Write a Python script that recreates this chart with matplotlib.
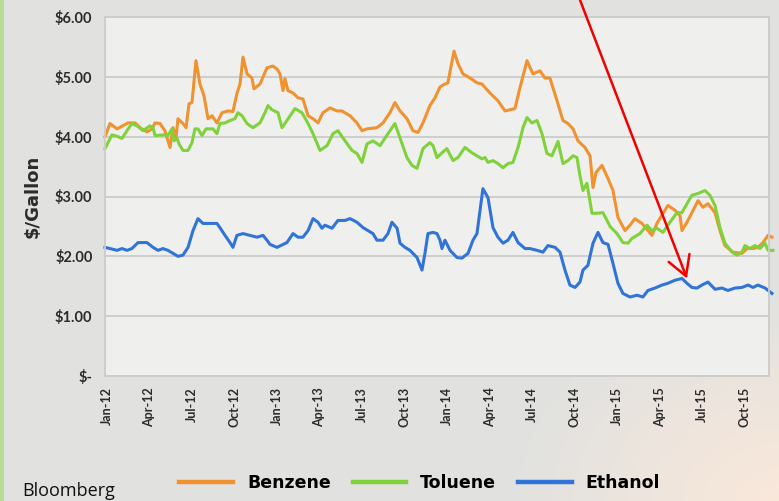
import numpy as np
import matplotlib
matplotlib.use("Agg")
import matplotlib.pyplot as plt
from matplotlib.lines import Line2D

# months since Jan-2012 and $/gallon
benzene_m = [-0.14, 0.21, 0.71, 1.48, 1.98, 2.33, 2.82, 3.18, 3.39, 3.74, 4.09, 4.45, 4.66, 4.87,
             5.01, 5.36, 5.58, 5.79, 6.00, 6.28, 6.56, 6.85, 7.13, 7.41, 7.76, 8.12, 8.54, 8.89,
             9.17, 9.39, 9.60, 9.88, 10.23, 10.37, 10.80, 11.29, 11.71, 12.00, 12.21, 12.42,
             12.56, 12.77, 13.13, 13.48, 13.83, 14.19, 14.54, 14.89, 15.24, 15.74, 16.23, 16.58,
             17.15, 17.64, 18.00, 18.35, 19.05, 19.48, 19.97, 20.32, 20.68, 21.17, 21.59, 21.95,
             22.30, 22.79, 23.15, 23.50, 23.85, 24.06, 24.49, 24.77, 25.12, 25.62, 26.11, 26.46,
             27.03, 27.59, 28.09, 28.79, 29.15, 29.64, 30.06, 30.56, 30.91, 31.26, 31.76, 32.18,
             32.53, 32.89, 33.24, 33.73, 34.09, 34.30, 34.51, 34.93, 35.36, 35.71, 36.06, 36.56,
             36.91, 37.26, 37.75, 38.18, 38.46, 38.81, 39.24, 39.59, 40.08, 40.44, 40.58, 40.93,
             41.28, 41.71, 42.06, 42.41, 42.91, 43.26, 43.61, 44.18, 44.81, 45.17, 45.59, 45.94,
             46.30, 46.65, 46.93]
benzene = [4.0, 4.22, 4.13, 4.23, 4.23, 4.15, 4.08, 4.13, 4.23, 4.22, 4.1, 3.82, 4.15, 3.98,
           4.3, 4.22, 4.15, 4.55, 4.57, 5.27, 4.88, 4.68, 4.3, 4.35, 4.23, 4.4, 4.43, 4.42,
           4.72, 4.88, 5.33, 5.05, 4.98, 4.8, 4.88, 5.15, 5.18, 5.13, 5.05, 4.77,
           4.97, 4.77, 4.73, 4.65, 4.63, 4.35, 4.3, 4.23, 4.4, 4.48, 4.43, 4.43,
           4.35, 4.23, 4.1, 4.13, 4.15, 4.23, 4.4, 4.57, 4.43, 4.3, 4.1, 4.07,
           4.23, 4.52, 4.65, 4.83, 4.88, 4.9, 5.43, 5.22, 5.05, 4.98, 4.9, 4.88,
           4.73, 4.6, 4.43, 4.47, 4.82, 5.27, 5.05, 5.1, 4.98, 4.98, 4.6, 4.27,
           4.22, 4.13, 3.93, 3.82, 3.68, 3.15, 3.4, 3.52, 3.3, 3.1, 2.65, 2.43,
           2.52, 2.63, 2.55, 2.43, 2.35, 2.55, 2.72, 2.85, 2.77, 2.68, 2.43, 2.57,
           2.73, 2.93, 2.82, 2.88, 2.73, 2.43, 2.18, 2.07, 2.05, 2.13, 2.13, 2.15,
           2.23, 2.35, 2.32]

toluene_m = [-0.14, 0.14, 0.35, 0.78, 1.06, 1.41, 1.76, 2.19, 2.54, 3.03, 3.25, 3.39, 4.09, 4.30,
             4.59, 4.73, 4.94, 5.08, 5.36, 5.72, 6.00, 6.21, 6.42, 6.70, 6.99, 7.48, 7.76, 7.97,
             8.33, 8.68, 9.03, 9.24, 9.53, 9.88, 10.30, 10.80, 11.15, 11.36, 11.64, 12.07, 12.35,
             12.70, 13.27, 13.76, 14.19, 14.54, 15.03, 15.53, 15.95, 16.30, 16.65, 17.29, 17.64,
             18.00, 18.35, 18.77, 19.27, 19.83, 20.32, 20.68, 21.17, 21.52, 21.88, 22.30, 22.79,
             23.01, 23.29, 23.64, 23.99, 24.42, 24.77, 25.26, 25.76, 26.11, 26.46, 26.68, 26.89,
             27.24, 27.59, 27.95, 28.30, 28.65, 29.01, 29.36, 29.64, 29.99, 30.35, 30.70, 31.05,
             31.40, 31.83, 32.18, 32.53, 32.89, 33.17, 33.38, 33.59, 33.87, 34.23, 34.58, 35.00,
             35.29, 35.50, 35.99, 36.41, 36.77, 37.05, 37.61, 38.11, 38.46, 38.81, 39.24, 39.73,
             40.23, 40.58, 40.93, 41.28, 41.71, 42.20, 42.55, 42.91, 43.26, 43.61, 44.11, 44.46,
             44.81, 45.02, 45.38, 45.73, 46.08, 46.44, 46.65, 47.00]
toluene = [3.8, 3.93, 4.03, 4.0, 3.97, 4.1, 4.22, 4.17, 4.1, 4.18, 4.15, 4.02, 4.03, 4.02,
           4.13, 3.93, 3.98, 3.88, 3.77, 3.77, 3.9, 4.13, 4.13, 4.02, 4.13, 4.13, 4.05, 4.22,
           4.23, 4.27, 4.3, 4.4, 4.35, 4.22, 4.15, 4.23, 4.4, 4.52, 4.45, 4.4, 4.15,
           4.27, 4.47, 4.4, 4.22, 4.05, 3.77, 3.85, 4.05, 4.1, 3.98, 3.77, 3.72,
           3.57, 3.88, 3.93, 3.85, 4.05, 4.22, 3.98, 3.65, 3.52, 3.47, 3.8, 3.9,
           3.85, 3.65, 3.73, 3.8, 3.6, 3.65, 3.82, 3.73, 3.68, 3.63, 3.65, 3.57,
           3.6, 3.55, 3.48, 3.55, 3.57, 3.82, 4.15, 4.32, 4.23, 4.27, 4.05, 3.72,
           3.68, 3.92, 3.55, 3.6, 3.68, 3.65, 3.35, 3.1, 3.22, 2.72, 2.72, 2.73,
           2.6, 2.5, 2.38, 2.23, 2.22, 2.3, 2.38, 2.52, 2.43, 2.47, 2.4, 2.57,
           2.73, 2.73, 2.88, 3.02, 3.05, 3.1, 3.02, 2.85, 2.48, 2.22, 2.07, 2.02,
           2.07, 2.18, 2.13, 2.18, 2.13, 2.22, 2.1, 2.1]

ethanol_m = [-0.14, 0.21, 0.71, 1.06, 1.41, 1.76, 2.19, 2.82, 3.25, 3.60, 3.95, 4.30, 4.66, 5.01,
             5.36, 5.72, 6.07, 6.42, 6.77, 7.27, 7.76, 7.97, 8.33, 8.68, 8.89, 9.17, 9.60, 10.09,
             10.59, 11.01, 11.29, 11.50, 12.00, 12.70, 13.13, 13.48, 13.83, 14.19, 14.54, 14.89,
             15.17, 15.38, 15.88, 16.30, 16.80, 17.15, 17.64, 18.07, 18.42, 18.77, 19.05, 19.48,
             19.83, 20.11, 20.47, 20.68, 21.03, 21.38, 21.88, 22.23, 22.44, 22.65, 23.01, 23.29,
             23.50, 23.64, 23.85, 24.21, 24.70, 25.05, 25.48, 25.83, 26.11, 26.53, 26.89, 27.24,
             27.59, 27.95, 28.30, 28.65, 29.01, 29.50, 29.85, 30.35, 30.77, 31.12, 31.62, 31.97,
             32.32, 32.67, 33.03, 33.38, 33.59, 33.94, 34.30, 34.65, 35.00, 35.36, 35.71, 36.06,
             36.41, 36.91, 37.40, 37.82, 38.18, 38.67, 39.17, 39.59, 40.08, 40.58, 40.93, 41.28,
             41.64, 41.99, 42.41, 42.91, 43.40, 43.82, 44.32, 44.81, 45.24, 45.59, 45.94, 46.44,
             46.93]
ethanol = [2.15, 2.13, 2.1, 2.13, 2.1, 2.13, 2.23, 2.23, 2.15, 2.1, 2.13, 2.1, 2.05, 2.0,
           2.02, 2.15, 2.43, 2.63, 2.55, 2.55, 2.55, 2.48, 2.35, 2.23, 2.15, 2.35, 2.38, 2.35,
           2.32, 2.35, 2.27, 2.2, 2.15, 2.23, 2.38, 2.32, 2.32, 2.43, 2.63, 2.57,
           2.47, 2.52, 2.47, 2.6, 2.6, 2.63, 2.57, 2.48, 2.43, 2.38, 2.27, 2.27,
           2.38, 2.57, 2.47, 2.22, 2.15, 2.1, 1.98, 1.77, 2.05, 2.38, 2.4, 2.38,
           2.27, 2.13, 2.27, 2.1, 1.98, 1.97, 2.05, 2.27, 2.38, 3.13, 2.98, 2.48,
           2.32, 2.22, 2.27, 2.4, 2.23, 2.13, 2.13, 2.1, 2.07, 2.18, 2.15, 2.07,
           1.77, 1.52, 1.48, 1.57, 1.77, 1.85, 2.22, 2.4, 2.23, 2.2, 1.88, 1.55,
           1.38, 1.32, 1.35, 1.32, 1.43, 1.47, 1.52, 1.55, 1.6, 1.63, 1.55, 1.48,
           1.47, 1.52, 1.57, 1.45, 1.47, 1.43, 1.47, 1.48, 1.52, 1.48, 1.52, 1.47,
           1.38]

tick_pos = list(range(0, 46, 3))
tick_labels = ["Jan-12", "Apr-12", "Jul-12", "Oct-12", "Jan-13", "Apr-13", "Jul-13", "Oct-13",
               "Jan-14", "Apr-14", "Jul-14", "Oct-14", "Jan-15", "Apr-15", "Jul-15", "Oct-15"]
y_ticks = [0, 1, 2, 3, 4, 5, 6]
y_labels = ["$-", "$1.00", "$2.00", "$3.00", "$4.00", "$5.00", "$6.00"]

c_benz = "#ef922f"
c_tol = "#7fd23b"
c_eth = "#3174d8"
txt = "#2b2b2b"
font = "Lato"

W, H = 779, 501
fig = plt.figure(figsize=(W / 100, H / 100), dpi=100)

# slide background: light grey with a warm glow bottom right
bg = fig.add_axes([0, 0, 1, 1], zorder=-10)
yy, xx = np.mgrid[0:H, 0:W]
d = np.hypot((xx - W) / 260.0, (yy - H) / 200.0)
w = np.clip(1 - d, 0, 1)[..., None]
base = np.array([226, 226, 224]) / 255.0
warm = np.array([250, 232, 218]) / 255.0
img = base * (1 - w) + warm * w
img[:, :4] = np.array([185, 220, 150]) / 255.0
bg.imshow(img, aspect="auto", extent=[0, 1, 0, 1], origin="upper")
bg.axis("off")

ax = fig.add_axes([105 / W, 1 - 376 / H, 664 / W, 359 / H])
ax.set_facecolor("#efefee")

ax.plot(benzene_m, benzene, color=c_benz, lw=2.2, clip_on=False, solid_joinstyle="round")
ax.plot(toluene_m, toluene, color=c_tol, lw=2.2, clip_on=False, solid_joinstyle="round")
ax.plot(ethanol_m, ethanol, color=c_eth, lw=2.2, clip_on=False, solid_joinstyle="round")

ax.set_xlim(-0.14, 46.72)
ax.set_ylim(0, 6)
ax.set_yticks(y_ticks)
ax.set_yticklabels(y_labels, fontsize=10.5, fontweight="bold", color=txt, family=font)
ax.set_xticks(tick_pos)
ax.set_xticklabels(tick_labels, rotation=90, fontsize=9, fontweight="bold", color=txt, family=font)
ax.tick_params(axis="both", length=0)
ax.tick_params(axis="y", pad=9)
ax.tick_params(axis="x", pad=8)
ax.grid(axis="y", color="#cbcbcb", lw=1.3)
ax.set_axisbelow(True)
for s in ax.spines.values():
    s.set_color("#cbcbcb")
    s.set_linewidth(1.3)

fig.text(33 / W, 1 - 196 / H, "$/Gallon", rotation=90, ha="center", va="center",
         fontsize=13, fontweight="bold", color=txt, family="DejaVu Sans")

handles = [Line2D([], [], color=c_benz, lw=3.2),
           Line2D([], [], color=c_tol, lw=3.2),
           Line2D([], [], color=c_eth, lw=3.2)]
fig.legend(handles, ["Benzene", "Toluene", "Ethanol"], loc="center", ncol=3,
           bbox_to_anchor=(0.539, 0.036), frameon=False, handlelength=3.1,
           handletextpad=0.8, columnspacing=1.25,
           prop={"family": "DejaVu Sans", "weight": "bold", "size": 12.5})

fig.text(22 / W, 1 - 491 / H, "Bloomberg", ha="left", va="center", fontsize=13,
         color="#111111", family="Open Sans")

# red arrow pointing at the ethanol level
ax.annotate("", xy=(40.93, 1.63), xycoords="data", xytext=(580 / W, 1.0),
            textcoords="figure fraction",
            arrowprops=dict(arrowstyle="->,head_length=0.7,head_width=0.4", color="#f20000",
                            lw=1.8, mutation_scale=20, shrinkA=0, shrinkB=0),
            annotation_clip=False)

fig.savefig("out.png", dpi=100)
